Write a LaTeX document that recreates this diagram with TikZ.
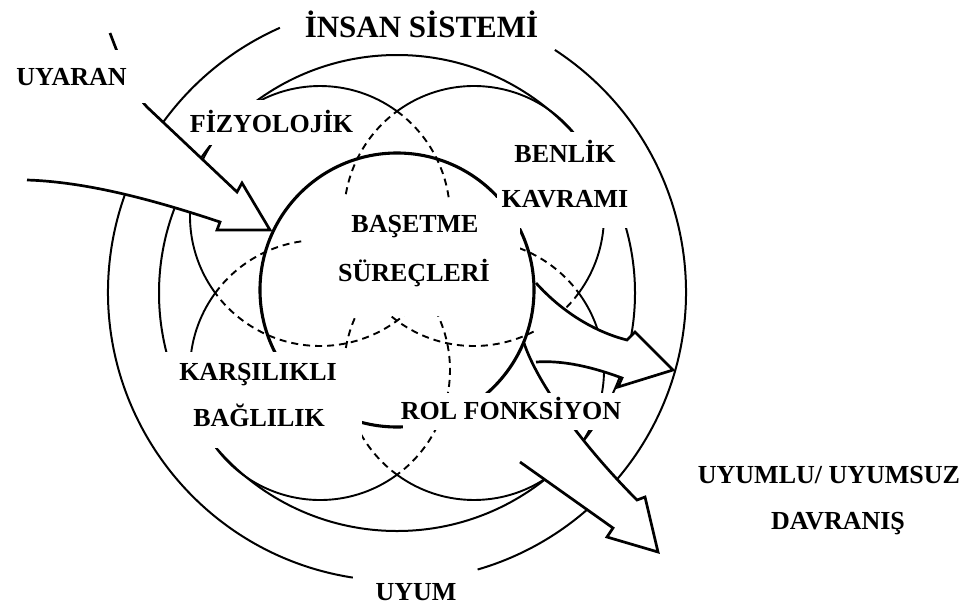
\documentclass[tikz,border=0pt]{standalone}
\usepackage{fontspec}
\setmainfont{Liberation Serif}
\tikzset{
  ring/.style={line width=2pt},
  modering/.style={line width=1.9pt},
  dashring/.style={line width=1.9pt, dash pattern=on 7pt off 5pt},
  core/.style={line width=3.1pt},
  bigarrow/.style={line width=2.7pt, line join=miter, fill=white},
  lab/.style={font=\fontsize{26}{30}\selectfont\bfseries, anchor=base, inner sep=0pt}
}
\begin{document}
\begin{tikzpicture}[x=1pt, y=-1pt]
  \useasboundingbox (0,0) rectangle (976,605);
  \coordinate (O) at (397,292);
  \coordinate (C) at (397,290);
  % outer ring, open at the title and at UYUM
  \draw[ring] (O) ++(303.1:289) arc[start angle=303.1, end angle=433.8, radius=289];
  \draw[ring] (O) ++(98.8:289) arc[start angle=98.8, end angle=246.1, radius=289];
  \draw[ring] (397,293) circle[radius=238];
  % four modes: outer part solid, inner part dashed
  \foreach \n/\x/\y/\m in {fiz/320/216/225, ben/474/216/-45, kar/320/370/135, rol/474/370/45} {
    \coordinate (\n) at (\x,\y);
    \draw[modering] (\n) ++(\m-81.3:130) arc[start angle=\m-81.3, end angle=\m+81.3, radius=130];
    \draw[dashring] (\n) ++(\m+81.3:130) arc[start angle=\m+81.3, end angle=\m+278.7, radius=130];
  }
  \draw[core] (C) circle[radius=137];
  % input and output arrows
  \draw[bigarrow] (110,33) .. controls (124,70) and (133,92) .. (147,107) -- (237,192) -- (242,183)
    -- (270,230) -- (217,230) -- (220,222) .. controls (160,202) and (90,182) .. (27,180);
  \draw[bigarrow] (536,283) .. controls (562,312) and (595,332) .. (627,340) -- (635,332) -- (673,370)
    -- (618,387) -- (622,378) .. controls (595,368) and (565,360) .. (536,362);
  \draw[bigarrow] (524,343) .. controls (538,385) and (585,448) .. (637,500) -- (645,497) -- (658,552)
    -- (607,537) -- (613,528) -- (520,462);
  % white boxes under the labels
  \foreach \a/\b/\c/\d in {5/50/146/103, 194/100/358/145, 497/132/633/228, 305/198/520/316, 163/352/362/448, 403/393/633/430}
    \fill[white] (\a,\b) rectangle (\c,\d);
  \node[lab, font=\fontsize{31}{36}\selectfont\bfseries] (sistem) at (421.5,37) {İNSAN SİSTEMİ};
  \node[lab] (uyaran) at (71.5,85) {UYARAN};
  \node[lab] (fizyo) at (271.5,132) {FİZYOLOJİK};
  \node[lab] (benlik) at (565,162) {BENLİK};
  \node[lab] (kavram) at (565,207.5) {KAVRAMI};
  \node[lab] (basetme) at (415,232) {BAŞETME};
  \node[lab] (surec) at (414,281) {SÜREÇLERİ};
  \node[lab] (karsi) at (258,380) {KARŞILIKLI};
  \node[lab] (bagli) at (259,426) {BAĞLILIK};
  \node[lab] (rol) at (511,419) {ROL FONKSİYON};
  \node[lab] (uyumlu) at (829,483) {UYUMLU/ UYUMSUZ};
  \node[lab] (davranis) at (838,529) {DAVRANIŞ};
  \node[lab] (uyum) at (416,600) {UYUM};
\end{tikzpicture}
\end{document}
